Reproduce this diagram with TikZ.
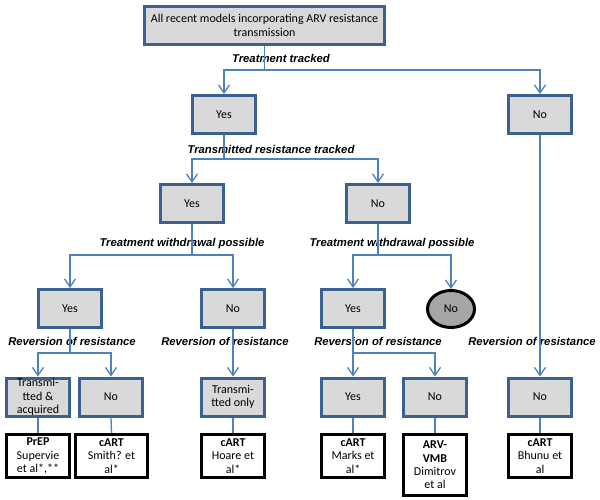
\documentclass[tikz,border=0pt]{standalone}
\usepackage{fontspec}
\setmainfont{Carlito}
\newfontfamily\arialfont{Liberation Sans}
\usepackage{tikz}
\usetikzlibrary{arrows.meta}
\usetikzlibrary{shapes.geometric}

\definecolor{boxblue}{HTML}{3B6190}
\definecolor{linkblue}{HTML}{4F81BD}
\definecolor{boxgray}{HTML}{D9D9D9}
\definecolor{endgray}{HTML}{A6A6A6}

\begin{document}
\begin{tikzpicture}[x=1pt, y=-1pt,
	font=\fontsize{12}{13.4}\selectfont,
	choice/.style={draw=boxblue, line width=3pt, fill=boxgray, minimum width=63pt, minimum height=38pt, align=center, inner sep=0pt},
	model/.style={draw=black, line width=3pt, fill=white, minimum width=63pt, minimum height=43pt, align=center, inner sep=0pt},
	endnode/.style={ellipse, draw=black, line width=3pt, fill=endgray, minimum width=47pt, minimum height=37pt, inner sep=0pt},
	question/.style={font=\arialfont\bfseries\itshape\fontsize{11.3}{13}\selectfont},
	link/.style={draw=linkblue, line width=1.3pt, -{Straight Barb[length=8pt,width=11pt]}},
	tie/.style={draw=linkblue, line width=1.3pt}]
		\useasboundingbox (0,0) rectangle (600,500);
		
		% draw decision boxes
		\node[choice, minimum width=240pt] (top) at (264.5,25.5) {All recent models incorporating ARV resistance\\transmission};
		\node[choice] (yes1) at (224,114.5) {Yes};
		\node[choice] (no1) at (540,114.5) {No};
		\node[choice] (yes2) at (192,203.5) {Yes};
		\node[choice] (no2) at (378,203.5) {No};
		\node[choice] (yes3) at (70,308.5) {Yes};
		\node[choice] (no3) at (233,308.5) {No};
		\node[choice] (yes3b) at (353,308.5) {Yes};
		\node[endnode] (no3b) at (451,309) {No};
		\node[choice] (both) at (38,397) {Transmi-\\tted \&\\acquired};
		\node[choice] (no4a) at (111,397) {No};
		\node[choice] (tonly) at (233,397) {Transmi-\\tted only};
		\node[choice] (yes4) at (353,397) {Yes};
		\node[choice] (no4b) at (435,397) {No};
		\node[choice] (no4c) at (540,397) {No};
		
		% draw model boxes
		\node[model] (prep) at (38,456) {\textbf{PrEP}\\Supervie\\et al*,**};
		\node[model, minimum width=72pt] (smith) at (111.5,456) {\textbf{cART}\\Smith? et\\al*};
		\node[model] (hoare) at (233,456) {\textbf{cART}\\Hoare et\\al*};
		\node[model] (marks) at (353,456) {\textbf{cART}\\Marks et\\al*};
		\node[model, minimum height=61pt] (dimitrov) at (435,465) {\textbf{ARV-}\\\textbf{VMB}\\Dimitrov\\et al};
		\node[model] (bhunu) at (540,456) {\textbf{cART}\\Bhunu et\\al};
		
		% draw questions
		\node[question] (qtreat) at (281,58) {Treatment tracked};
		\node[question] (qtrans) at (271,149) {Transmitted resistance tracked};
		\node[question] (qwithl) at (182,244) {Treatment withdrawal possible};
		\node[question] (qwithr) at (392,244) {Treatment withdrawal possible};
		\node[question] (qrev1) at (72,341) {Reversion of resistance};
		\node[question] (qrev2) at (225,341) {Reversion of resistance};
		\node[question] (qrev3) at (378,341) {Reversion of resistance};
		\node[question] (qrev4) at (532,341) {Reversion of resistance};
		
		% draw arrows
		\draw[link] (top.south) -- ++(0,24) -| (yes1.north);
		\draw[link] (top.south) -- ++(0,24) -| (no1.north);
		\draw[link] (yes1.south) -- ++(0,24) -| (yes2.north);
		\draw[link] (yes1.south) -- ++(0,24) -| (no2.north);
		\draw[link] (yes2.south) -- ++(0,31) -| (yes3.north);
		\draw[link] (yes2.south) -- ++(0,31) -| (no3.north);
		\draw[link] (no2.south) -- ++(0,31) -| (yes3b.north);
		\draw[link] (no2.south) -- ++(0,31) -| (no3b.north);
		\draw[link] (yes3.south) -- ++(0,24) -| (both.north);
		\draw[link] (yes3.south) -- ++(0,24) -| (no4a.north);
		\draw[link] (no3.south) -- (tonly.north);
		\draw[link] (yes3b.south) -- ++(0,24) -| (yes4.north);
		\draw[link] (yes3b.south) -- ++(0,24) -| (no4b.north);
		\draw[link] (no1.south) -- (no4c.north);
		
		% draw plain links to models
		\draw[tie] (both.south) -- (prep.north);
		\draw[tie] (no4a.south) -- (smith.north);
		\draw[tie] (tonly.south) -- (hoare.north);
		\draw[tie] (yes4.south) -- (marks.north);
		\draw[tie] (no4b.south) -- (dimitrov.north);
		\draw[tie] (no4c.south) -- (bhunu.north);
		
		\end{tikzpicture}
\end{document}
